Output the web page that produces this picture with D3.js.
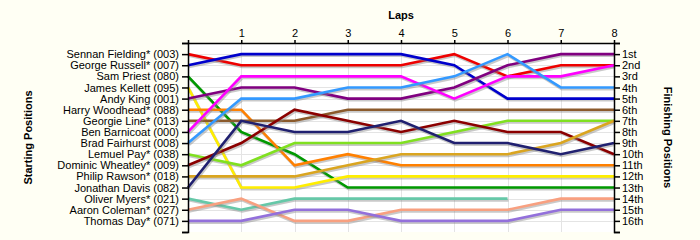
<!DOCTYPE html>
<html><head><meta charset="utf-8">
<script src="https://cdn.jsdelivr.net/npm/d3@7"></script>
<style>
html,body{margin:0;padding:0;background:#fffff4;}
svg{display:block;font-family:"Liberation Sans",Arial,sans-serif;}
</style></head>
<body>
<svg id="chart" width="700" height="240"></svg>
<script>
// ---- data ----
const laps = [0, 1, 2, 3, 4, 5, 6, 7, 8];
const drivers = [
  "Sennan Fielding* (003)", "George Russell* (007)", "Sam Priest (080)", "James Kellett (095)",
  "Andy King (001)", "Harry Woodhead* (088)", "Georgie Line* (013)", "Ben Barnicoat (000)",
  "Brad Fairhurst (008)", "Lemuel Pay* (038)", "Dominic Wheatley* (009)", "Philip Rawson* (018)",
  "Jonathan Davis (082)", "Oliver Myers* (021)", "Aaron Coleman* (027)", "Thomas Day* (071)"
];
const finishLabels = ["1st","2nd","3rd","4th","5th","6th","7th","8th","9th","10th","11th","12th","13th","14th","15th","16th"];
// position of each driver at lap 0..8
const sennan   = [1, 2, 2, 2, 2, 1, 3, 2, 2];
const george   = [2, 1, 1, 1, 1, 2, 5, 5, 5];
const sam      = [3, 8, 10, 13, 13, 13, 13, 13, 13];
const james    = [4, 13, 13, 12, 12, 12, 12, 12, 12];
const andy     = [5, 4, 4, 5, 5, 4, 2, 1, 1];
const harry    = [6, 6, 11, 10, 11, 11, 11, 11, 11];
const georgie  = [7, 7, 7, 6, 6, 6, 6, 6, 6];
const ben      = [8, 3, 3, 3, 3, 5, 3, 3, 2];
const brad     = [9, 5, 5, 4, 4, 3, 1, 4, 4];
const lemuel   = [10, 11, 9, 9, 9, 8, 7, 7, 7];
const dominic  = [11, 9, 6, 7, 8, 7, 8, 8, 10];
const philip   = [12, 12, 12, 11, 10, 10, 10, 9, 7];
const jonathan = [13, 7, 8, 8, 7, 9, 9, 10, 9];
const oliver   = [14, 15, 14, 14, 14, 14, 14];
const aaron    = [15, 14, 16, 16, 15, 15, 15, 14, 14];
const thomas   = [16, 16, 15, 15, 16, 16, 16, 15, 15];
const series = [sennan, george, sam, james, andy, harry, georgie, ben, brad, lemuel, dominic, philip, jonathan, oliver, aaron, thomas];

// ---- styles ----
const palette = ["#ee0000","#0000cc","#009900","#ffee00","#800080","#ff8000","#8b5a2b","#ff00ff",
                 "#3399ff","#80e020","#8b0000","#daa520","#202070","#66c8a8","#f8a080","#9370db"];

const svg = d3.select("#chart");
const x = d3.scaleLinear().domain([0, 8]).range([188, 614]);
const y = d3.scaleLinear().domain([0, 17]).range([43, 232]);

// plot background
svg.append("rect").attr("x", x(0)).attr("y", y(0)).attr("width", x(8) - x(0)).attr("height", y(17) - y(0)).attr("fill", "#ffffff");

// grid
const grid = svg.append("g").attr("stroke", "#e4e4e4").attr("stroke-width", 1);
grid.selectAll("line.h").data(d3.range(1, 17)).join("line")
  .attr("x1", x(0)).attr("x2", x(8)).attr("y1", d => Math.round(y(d)) + 0.5).attr("y2", d => Math.round(y(d)) + 0.5);
grid.selectAll("line.v").data(laps.slice(1, 8)).join("line")
  .attr("y1", y(0)).attr("y2", y(17)).attr("x1", d => Math.round(x(d)) + 0.5).attr("x2", d => Math.round(x(d)) + 0.5);

// lines
const line = d3.line().x((d, i) => x(laps[i])).y(d => y(d));
series.forEach((s, k) => {
  svg.append("path").attr("d", line(s)).attr("fill", "none").attr("stroke", "#888")
    .attr("stroke-opacity", 0.45).attr("stroke-width", 3).attr("transform", "translate(1,1.5)");
  svg.append("path").attr("d", line(s)).attr("fill", "none").attr("stroke", palette[k])
    .attr("stroke-width", 2.6).attr("stroke-linejoin", "miter");
});

// axes
const fontSize = "11px";
const leftAxis = svg.append("g").attr("transform", `translate(${x(0)},0)`)
  .call(d3.axisLeft(y).tickValues(d3.range(0, 18)).tickSize(6).tickPadding(3)
    .tickFormat(d => (d >= 1 && d <= 16) ? drivers[d - 1] : ""));
const rightAxis = svg.append("g").attr("transform", `translate(${x(8)},0)`)
  .call(d3.axisRight(y).tickValues(d3.range(0, 18)).tickSize(6).tickPadding(2)
    .tickFormat(d => (d >= 1 && d <= 16) ? finishLabels[d - 1] : ""));
const topAxis = svg.append("g").attr("transform", `translate(0,${y(0)})`)
  .call(d3.axisTop(x).tickValues(laps).tickSize(3).tickSizeOuter(0).tickPadding(3)
    .tickFormat(d => d === 0 ? "" : d));
[leftAxis, rightAxis, topAxis].forEach(g => {
  g.selectAll("path.domain").attr("stroke", "#000").attr("stroke-width", 1.5);
  g.selectAll(".tick line").attr("stroke", "#000").attr("stroke-width", 1.5);
  g.selectAll("text").attr("font-size", fontSize).attr("fill", "#000")
    .attr("font-family", '"Liberation Sans", Arial, sans-serif');
});

// titles
svg.append("text").attr("x", (x(0) + x(8)) / 2).attr("y", 19).attr("text-anchor", "middle")
  .attr("font-size", "11px").attr("font-weight", "bold").text("Laps");
svg.append("text").attr("transform", `translate(32,${(y(0) + y(17)) / 2}) rotate(-90)`)
  .attr("text-anchor", "middle").attr("font-size", "11px").attr("font-weight", "bold").text("Starting Positions");
svg.append("text").attr("transform", `translate(664,${(y(0) + y(17)) / 2}) rotate(90)`)
  .attr("text-anchor", "middle").attr("font-size", "11px").attr("font-weight", "bold").text("Finishing Positions");
</script>
</body></html>
